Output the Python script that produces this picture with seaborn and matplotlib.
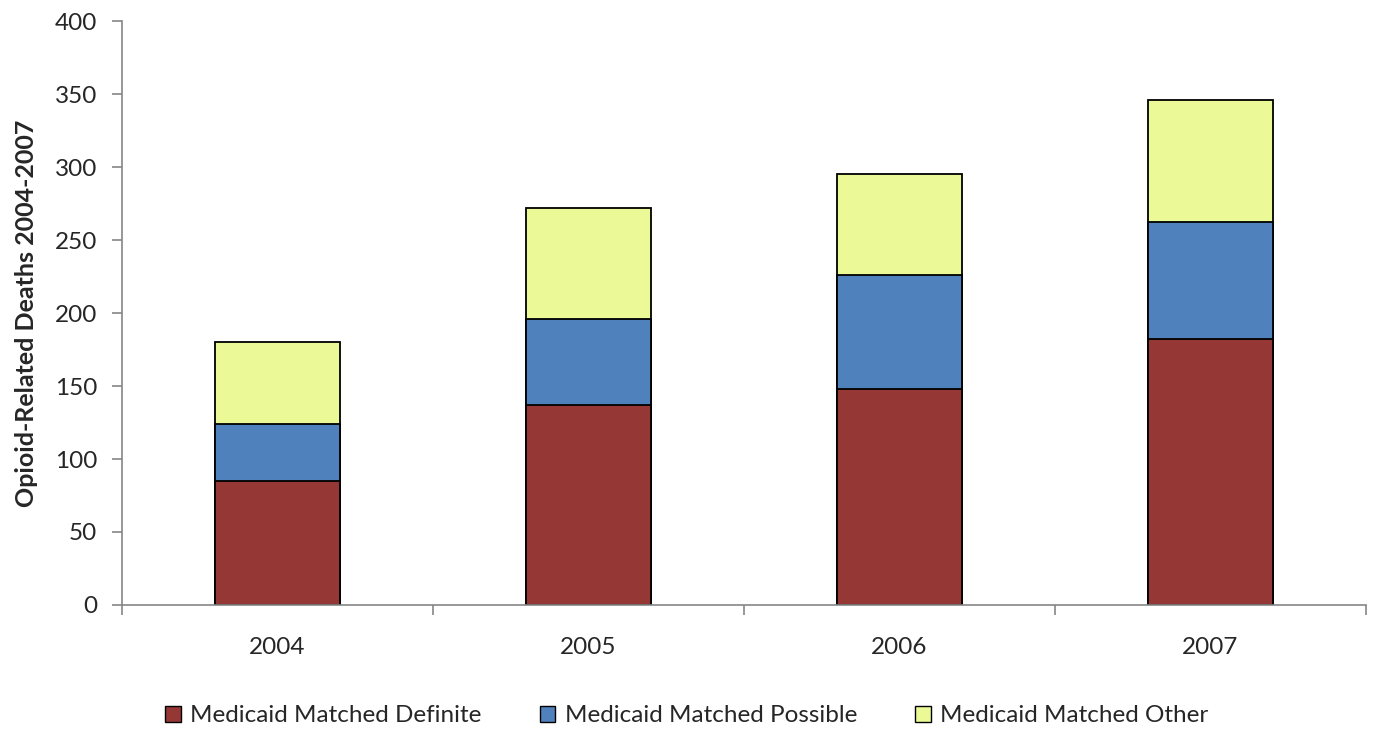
import matplotlib
matplotlib.use("Agg")
import matplotlib.pyplot as plt
from matplotlib.patches import Patch
import numpy as np
import pandas as pd
import seaborn as sns

years = ["2004", "2005", "2006", "2007"]
definite = [85, 137, 148, 182]
possible = [39, 59, 78, 80]
other = [56, 76, 69, 84]
series_names = ["Medicaid Matched Definite", "Medicaid Matched Possible", "Medicaid Matched Other"]
colors = ["#953735", "#4F81BD", "#EBFA96"]

sns.set_theme(style="white")
plt.rcParams["font.family"] = ["Lato", "DejaVu Sans"]

d = np.array(definite)
p = np.array(possible)
o = np.array(other)
cumulative = [d, d + p, d + p + o]

fig = plt.figure(figsize=(13.74, 7.32), dpi=100)
ax = fig.add_axes([0.0888, 0.1735, 0.9054, 0.7978])

# stacked bars drawn as cumulative totals, tallest first
for vals, col in zip(reversed(cumulative), reversed(colors)):
    df = pd.DataFrame({"year": years, "value": vals})
    sns.barplot(data=df, x="year", y="value", color=col, width=0.4,
                edgecolor="black", linewidth=1.3, saturation=1, ax=ax, zorder=2)

ax.set_xlim(-0.5, len(years) - 0.5)
ax.set_ylim(0, 400)
ax.set_yticks(np.arange(0, 401, 50))
ax.set_xlabel("")
ax.set_ylabel("Opioid-Related Deaths 2004-2007", fontsize=18, fontweight="bold", labelpad=12)

for s in ["top", "right"]:
    ax.spines[s].set_visible(False)
for s in ["left", "bottom"]:
    ax.spines[s].set_color("#868686")
    ax.spines[s].set_linewidth(1.2)

ax.tick_params(axis="y", which="major", direction="out", length=7, width=1.2,
               color="#868686", labelsize=17.5, pad=11, left=True)
ax.tick_params(axis="x", which="major", length=0, labelsize=17.5, pad=23)
ax.set_xticks(np.arange(-0.5, len(years)), minor=True)
ax.tick_params(axis="x", which="minor", direction="out", length=7, width=1.2,
               color="#868686", bottom=True)

handles = [Patch(facecolor=c, edgecolor="black", linewidth=1.0) for c in colors]
fig.legend(handles, series_names, loc="center", bbox_to_anchor=(0.5, 1 - 716 / 732),
           ncol=3, frameon=False, fontsize=17.5, handlelength=0.62, handleheight=0.62,
           handletextpad=0.4, columnspacing=2.4)

fig.savefig("out.png", dpi=100)
